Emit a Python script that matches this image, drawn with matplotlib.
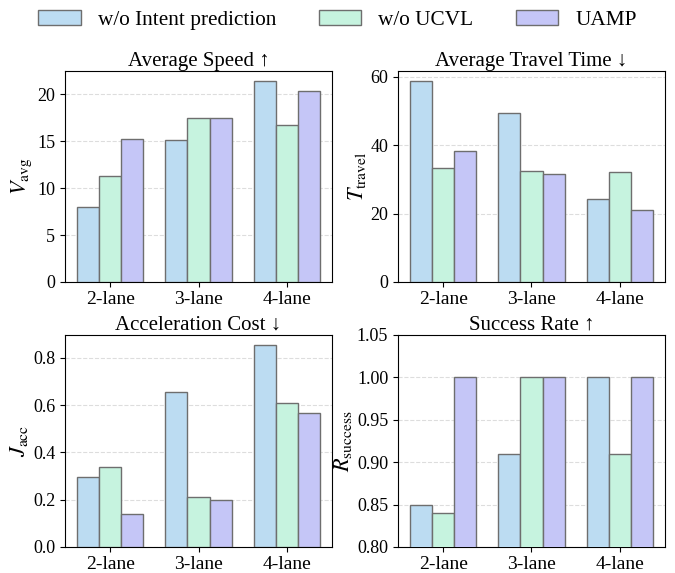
import numpy as np
import matplotlib
matplotlib.use("Agg")
import matplotlib.pyplot as plt
from matplotlib.patches import Patch

plt.rcParams['font.family'] = ['Liberation Serif', 'DejaVu Serif']
plt.rcParams['mathtext.fontset'] = 'stix'

# data
lanes = ['2-lane', '3-lane', '4-lane']
methods = ['w/o Intent prediction', 'w/o UCVL', 'UAMP']
colors = ['#bcdcf2', '#c6f3df', '#c5c6f7']

speed = {
    'w/o Intent prediction': [8.0, 15.1, 21.4],
    'w/o UCVL': [11.3, 17.5, 16.7],
    'UAMP': [15.2, 17.45, 20.3],
}
travel = {
    'w/o Intent prediction': [58.8, 49.4, 24.3],
    'w/o UCVL': [33.3, 32.4, 32.1],
    'UAMP': [38.3, 31.6, 21.2],
}
acc = {
    'w/o Intent prediction': [0.296, 0.656, 0.854],
    'w/o UCVL': [0.337, 0.21, 0.61],
    'UAMP': [0.14, 0.20, 0.566],
}
success = {
    'w/o Intent prediction': [0.85, 0.91, 1.00],
    'w/o UCVL': [0.84, 1.00, 0.91],
    'UAMP': [1.00, 1.00, 1.00],
}

panels = [
    (speed, 'Average Speed ↑', r'$V_{\rm avg}$', None, [0.0963, 0.5079, 0.3956, 0.3682]),
    (travel, 'Average Travel Time ↓', r'$T_{\rm travel}$', None, [0.5896, 0.5079, 0.3956, 0.3682]),
    (acc, 'Acceleration Cost ↓', r'$J_{\rm acc}$', None, [0.0963, 0.0454, 0.3956, 0.3700]),
    (success, 'Success Rate ↑', r'$R_{\rm success}$', (0.80, 1.05), [0.5896, 0.0454, 0.3956, 0.3700]),
]

fig = plt.figure(figsize=(6.75, 5.73), dpi=100)
x = np.arange(len(lanes))
width = 0.25

for data, title, ylab, ylim, pos in panels:
    ax = fig.add_axes(pos)
    for i, m in enumerate(methods):
        ax.bar(x + (i - 1) * width, data[m], width, color=colors[i],
               edgecolor='#6e6e6e', linewidth=1.0, zorder=3)
    ax.set_xticks(x)
    ax.set_xticklabels(lanes, fontsize=14)
    ax.tick_params(axis='y', labelsize=13)
    ax.tick_params(axis='x', pad=3)
    ax.set_title(title, fontsize=15, pad=3)
    ax.set_ylabel(ylab, fontsize=16, labelpad=2)
    if ylim:
        ax.set_ylim(*ylim)
        ax.set_yticks([0.80, 0.85, 0.90, 0.95, 1.00, 1.05])
    ax.yaxis.grid(True, linestyle='--', color='#dddddd', linewidth=0.8, zorder=0)
    ax.set_axisbelow(True)

handles = [Patch(facecolor=colors[i], edgecolor='#6e6e6e', label=methods[i]) for i in range(3)]
fig.legend(handles=handles, loc='center', bbox_to_anchor=(0.5, 0.965), ncol=3,
           frameon=False, fontsize=15.3, handlelength=2.0, handleheight=0.69,
           columnspacing=2.0, handletextpad=0.8)

fig.savefig('out.png', dpi=100)
